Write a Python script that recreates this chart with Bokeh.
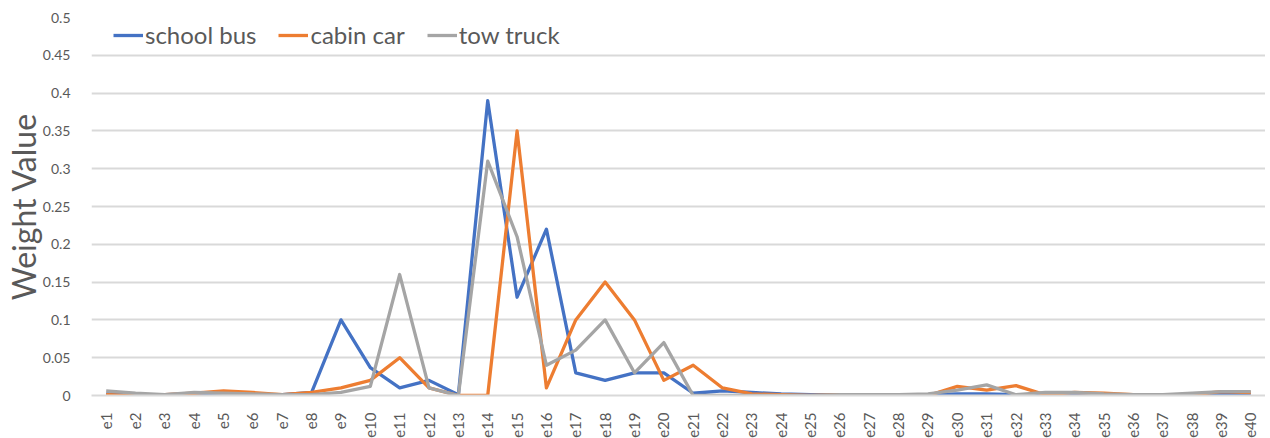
from bokeh.plotting import figure
from bokeh.models import FactorRange, Range1d, Legend, LegendItem, SingleIntervalTicker
from bokeh.embed import file_html
from bokeh.resources import INLINE
import math

categories = [f"e{i}" for i in range(1, 41)]

school_bus = [0.002, 0.001, 0.001, 0.002, 0.001, 0.001, 0.001, 0.004, 0.10, 0.037,
              0.010, 0.020, 0.001, 0.39, 0.13, 0.22, 0.030, 0.020, 0.030, 0.030,
              0.003, 0.006, 0.004, 0.002, 0.001, 0.001, 0.001, 0.001, 0.001, 0.002,
              0.002, 0.001, 0.001, 0.002, 0.001, 0.001, 0.001, 0.001, 0.002, 0.002]

cabin_car = [0.001, 0.000, 0.001, 0.003, 0.006, 0.004, 0.001, 0.004, 0.010, 0.020,
             0.050, 0.010, 0.000, 0.000, 0.35, 0.010, 0.10, 0.15, 0.10, 0.020,
             0.040, 0.010, 0.002, 0.001, 0.000, 0.001, 0.001, 0.001, 0.000, 0.012,
             0.007, 0.013, 0.001, 0.004, 0.003, 0.001, 0.000, 0.001, 0.005, 0.004]

tow_truck = [0.006, 0.003, 0.001, 0.004, 0.003, 0.002, 0.001, 0.001, 0.004, 0.012,
             0.16, 0.010, 0.000, 0.31, 0.21, 0.040, 0.060, 0.10, 0.030, 0.070,
             0.000, 0.000, 0.000, 0.000, 0.000, 0.001, 0.001, 0.001, 0.002, 0.007,
             0.014, 0.001, 0.004, 0.004, 0.002, 0.001, 0.001, 0.003, 0.005, 0.005]

series_names = ["school bus", "cabin car", "tow truck"]
colors = ["#4472C4", "#ED7D31", "#A5A5A5"]
FONT = "Lato"
TXT = "#595959"

p = figure(frame_width=1174, frame_height=378, output_backend="svg", toolbar_location=None,
           x_range=FactorRange(*categories, range_padding=0),
           y_range=Range1d(0, 0.5))
p.min_border_left = 80
p.min_border_right = 0
p.min_border_top = 17
p.min_border_bottom = 10
p.outline_line_color = None

renderers = []
for name, vals, c in zip(series_names, [school_bus, cabin_car, tow_truck], colors):
    r = p.line(categories, vals, line_color=c, line_width=3.3, line_join="round")
    renderers.append((name, r))

# axes
p.yaxis.ticker = SingleIntervalTicker(interval=0.05)
p.yaxis.axis_line_color = None
p.yaxis.major_tick_line_color = None
p.yaxis.minor_tick_line_color = None
p.yaxis.major_label_text_font = FONT
p.yaxis.major_label_text_font_size = "14px"
p.yaxis.major_label_text_color = TXT
p.yaxis.major_label_standoff = 15
p.yaxis.axis_label = "Weight Value"
p.yaxis.axis_label_text_font = FONT
p.yaxis.axis_label_text_font_size = "32px"
p.yaxis.axis_label_text_font_style = "normal"
p.yaxis.axis_label_text_color = TXT
p.yaxis.axis_label_standoff = -3

p.xaxis.axis_line_color = "#D9D9D9"
p.xaxis.axis_line_width = 2
p.xaxis.major_tick_line_color = None
p.xaxis.minor_tick_line_color = None
p.xaxis.major_label_orientation = math.pi / 2
p.xaxis.major_label_text_font = FONT
p.xaxis.major_label_text_font_size = "15px"
p.xaxis.major_label_text_color = TXT
p.xaxis.major_label_standoff = 11

p.xgrid.grid_line_color = None
p.ygrid.grid_line_color = "#D9D9D9"
p.ygrid.grid_line_width = 2

legend = Legend(items=[LegendItem(label=n, renderers=[r]) for n, r in renderers],
                orientation="horizontal")
legend.border_line_color = None
legend.background_fill_alpha = 0
legend.label_text_font = FONT
legend.label_text_font_size = "24px"
legend.label_text_color = TXT
legend.glyph_width = 30
legend.glyph_height = 24
legend.label_standoff = 2
legend.spacing = 22
legend.margin = 0
legend.padding = 0
legend.label_height = 24
legend.location = (22, 346)
p.add_layout(legend)

open("out.html", "w").write(file_html(p, INLINE))
